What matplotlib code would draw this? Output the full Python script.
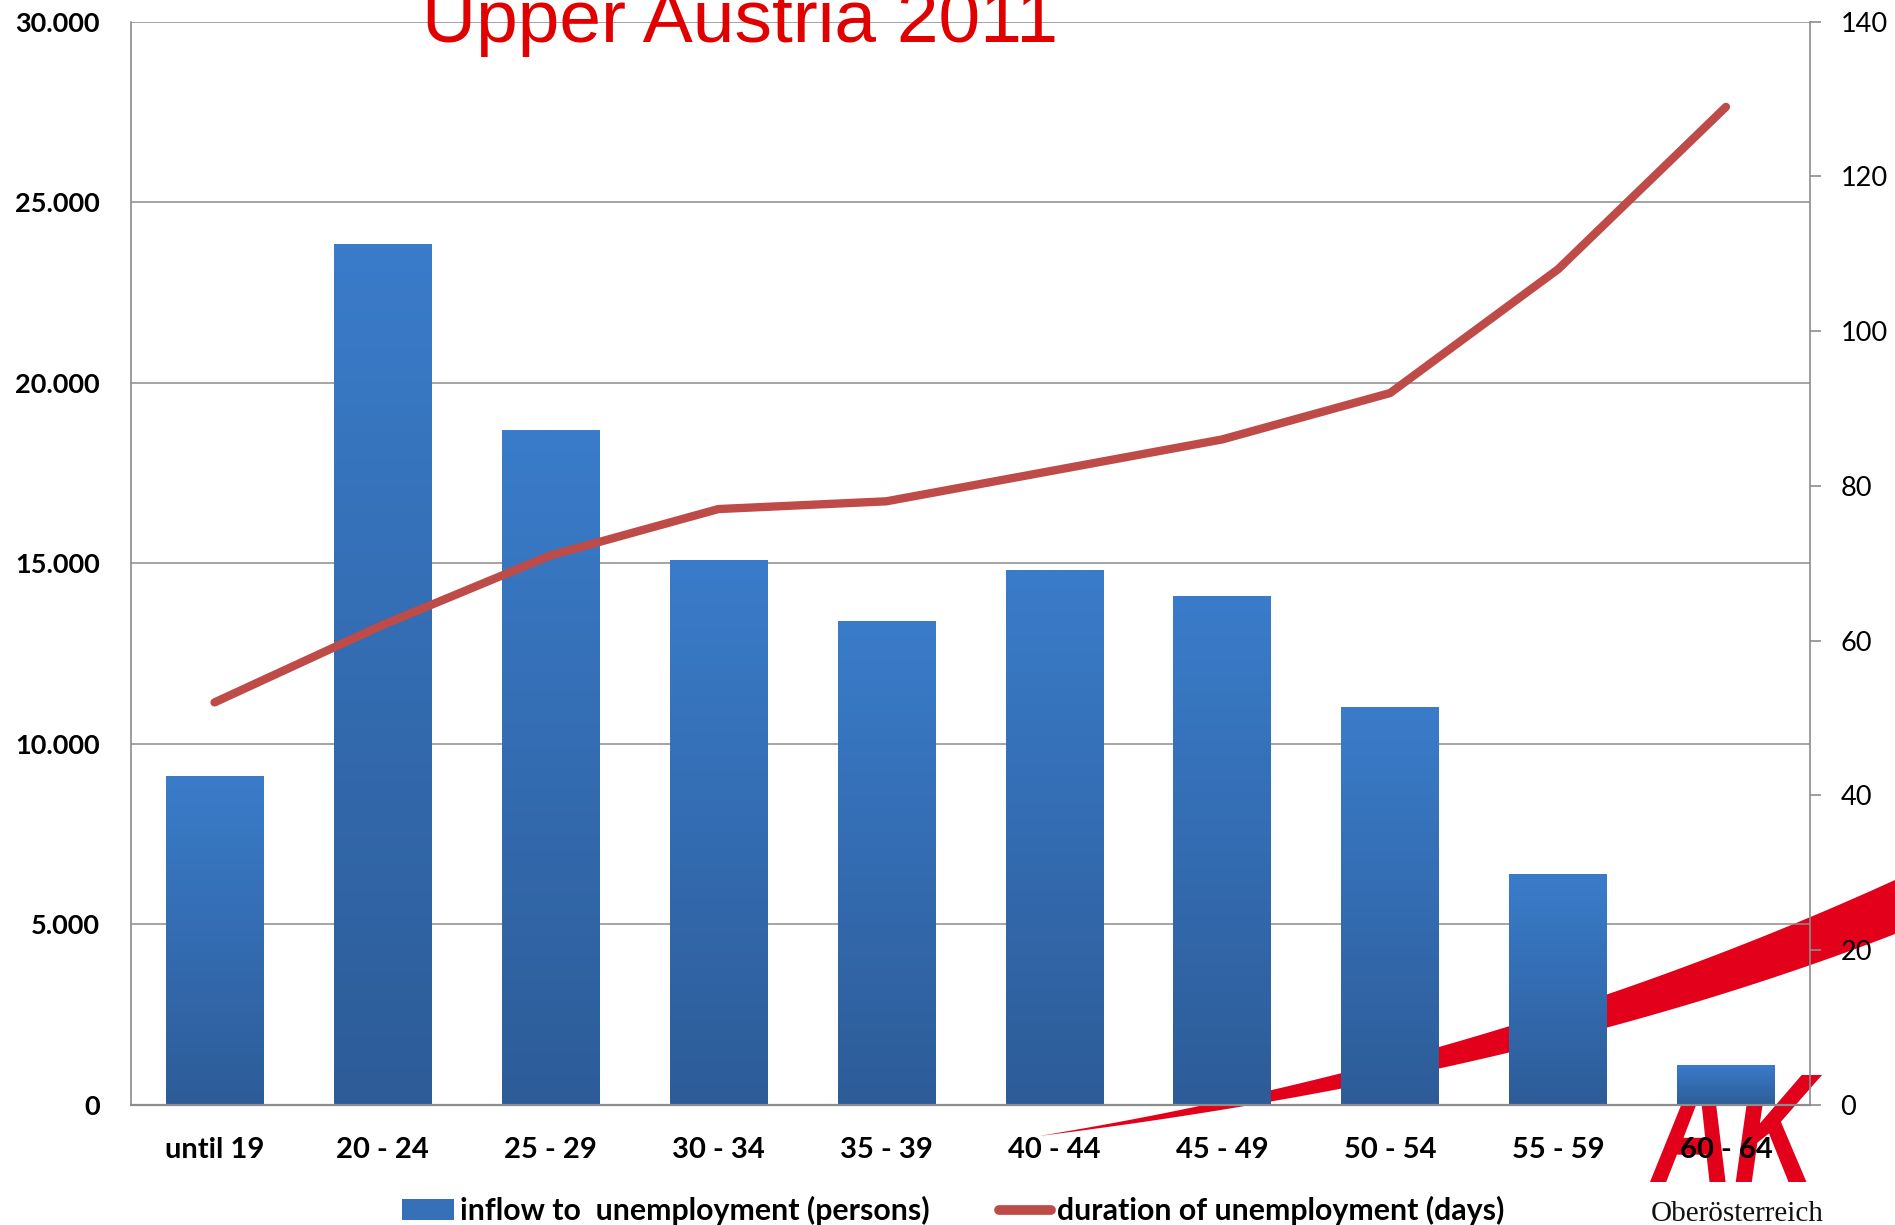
import matplotlib
matplotlib.use('Agg')
import matplotlib.pyplot as plt
import numpy as np
from matplotlib.patches import Polygon, Patch, PathPatch
from matplotlib.lines import Line2D
from matplotlib.colors import LinearSegmentedColormap
from matplotlib.textpath import TextPath
from matplotlib.font_manager import FontProperties
from matplotlib.transforms import Affine2D

# data
age_groups = ['until 19', '20 - 24', '25 - 29', '30 - 34', '35 - 39',
              '40 - 44', '45 - 49', '50 - 54', '55 - 59', '60 - 64']
inflow_persons = [9100, 23850, 18700, 15100, 13400, 14800, 14100, 11000, 6400, 1100]
duration_days = [52, 62, 71, 77, 78, 82, 86, 92, 108, 129]

left_ticks = [0, 5000, 10000, 15000, 20000, 25000, 30000]
left_labels = ['0', '5.000', '10.000', '15.000', '20.000', '25.000', '30.000']
right_ticks = [0, 20, 40, 60, 80, 100, 120, 140]

W, H = 1895, 1225
fig = plt.figure(figsize=(W / 100, H / 100), dpi=100)
ax = fig.add_axes([0.0689, 0.0983, 0.9551 - 0.0689, 0.9822 - 0.0983])
ax.set_facecolor('none')

grid_col = '#8c8c8c'
x = np.arange(len(age_groups))

# bars with vertical gradient
blue_cmap = LinearSegmentedColormap.from_list('b', ['#2d5c98', '#3a7cca'])
grad = np.linspace(0, 1, 256).reshape(-1, 1)
bars = ax.bar(x, inflow_persons, width=0.58, color='none', zorder=2)
for b in bars:
    ax.imshow(grad, extent=[b.get_x(), b.get_x() + b.get_width(), 0, b.get_height()],
              origin='lower', aspect='auto', cmap=blue_cmap, zorder=2)

ax.set_xlim(-0.5, len(age_groups) - 0.5)
ax.set_ylim(0, 30000)
ax.set_yticks(left_ticks)
ax.set_yticklabels(left_labels, fontfamily='Lato', fontweight='bold', fontsize=19.5)
ax.set_xticks(x)
ax.set_xticklabels(age_groups, fontfamily='Lato', fontweight='bold', fontsize=21)
ax.tick_params(axis='y', length=0, pad=22)
ax.tick_params(axis='x', length=0, pad=23)
ax.yaxis.grid(True, color=grid_col, linewidth=1.1, zorder=1)
ax.set_axisbelow(True)
for s in ['left', 'bottom']:
    ax.spines[s].set_color(grid_col)
ax.spines['left'].set_linewidth(1.2)
ax.spines['bottom'].set_linewidth(1.6)
ax.spines['top'].set_visible(False)
ax.spines['right'].set_visible(False)

# duration line on right axis
ax2 = ax.twinx()
ax2.plot(x, duration_days, color='#be4b48', linewidth=6, solid_capstyle='round',
         solid_joinstyle='round', zorder=3)
ax2.set_ylim(0, 140)
ax2.set_yticks(right_ticks)
ax2.set_yticklabels([str(t) for t in right_ticks], fontfamily='Lato', fontsize=19.5)
ax2.tick_params(axis='y', length=8, width=1.2, color=grid_col, pad=14)
ax2.spines['right'].set_color(grid_col)
ax2.spines['right'].set_linewidth(1.2)
for s in ['left', 'top', 'bottom']:
    ax2.spines[s].set_visible(False)

# title
fig.text(740 / W, 1 - 42 / H, 'Upper Austria 2011', fontsize=54, color='#e00000',
         family='Liberation Sans', ha='center', va='baseline', zorder=5)

# legend
handles = [Patch(facecolor='#3670b8', edgecolor='none'),
           Line2D([], [], color='#be4b48', linewidth=7, solid_capstyle='round')]
labels = ['inflow to  unemployment (persons)', 'duration of unemployment (days)']
fig.legend(handles, labels, loc='center', bbox_to_anchor=(0.503, 0.0115), ncol=2,
           frameon=False, handlelength=1.7, handleheight=0.7, handletextpad=0.2,
           columnspacing=2.3, prop={'family': 'Lato', 'weight': 'bold', 'size': 21.8})

# AK logo decoration (behind the chart)
t = np.linspace(0, 1, 60)[:, None]
def bez(p0, p1, p2):
    p0, p1, p2 = map(np.array, (p0, p1, p2))
    return (1 - t) ** 2 * p0 + 2 * (1 - t) * t * p1 + t ** 2 * p2
upper = bez((1039, 1136), (1500, 1060), (1895, 880))
lower = bez((1039, 1136), (1530, 1075), (1895, 934))
pts = np.vstack([upper, lower[::-1]])
pts = np.column_stack([pts[:, 0] / W, 1 - pts[:, 1] / H])
fig.patches.append(Polygon(pts, closed=True, facecolor='#e2001a', edgecolor='none',
                           transform=fig.transFigure, zorder=-1))

ak = TextPath((0, 0), 'AK', size=100,
              prop=FontProperties(family='Liberation Sans', weight='bold', style='italic'))
bb = ak.get_extents()
ak_tr = (Affine2D().translate(-bb.x0, -bb.y0)
         .scale(172 / bb.width, 107 / bb.height).translate(1650, H - 1182))
fig.add_artist(PathPatch(ak, facecolor='#e2001a', edgecolor='none',
                         transform=ak_tr, zorder=-1))
fig.text(1737 / W, 1 - 1214 / H, 'Oberösterreich', fontsize=21, color='#111111',
         family='Liberation Serif', ha='center', va='center', zorder=-1)

fig.savefig('out.png', dpi=100)
